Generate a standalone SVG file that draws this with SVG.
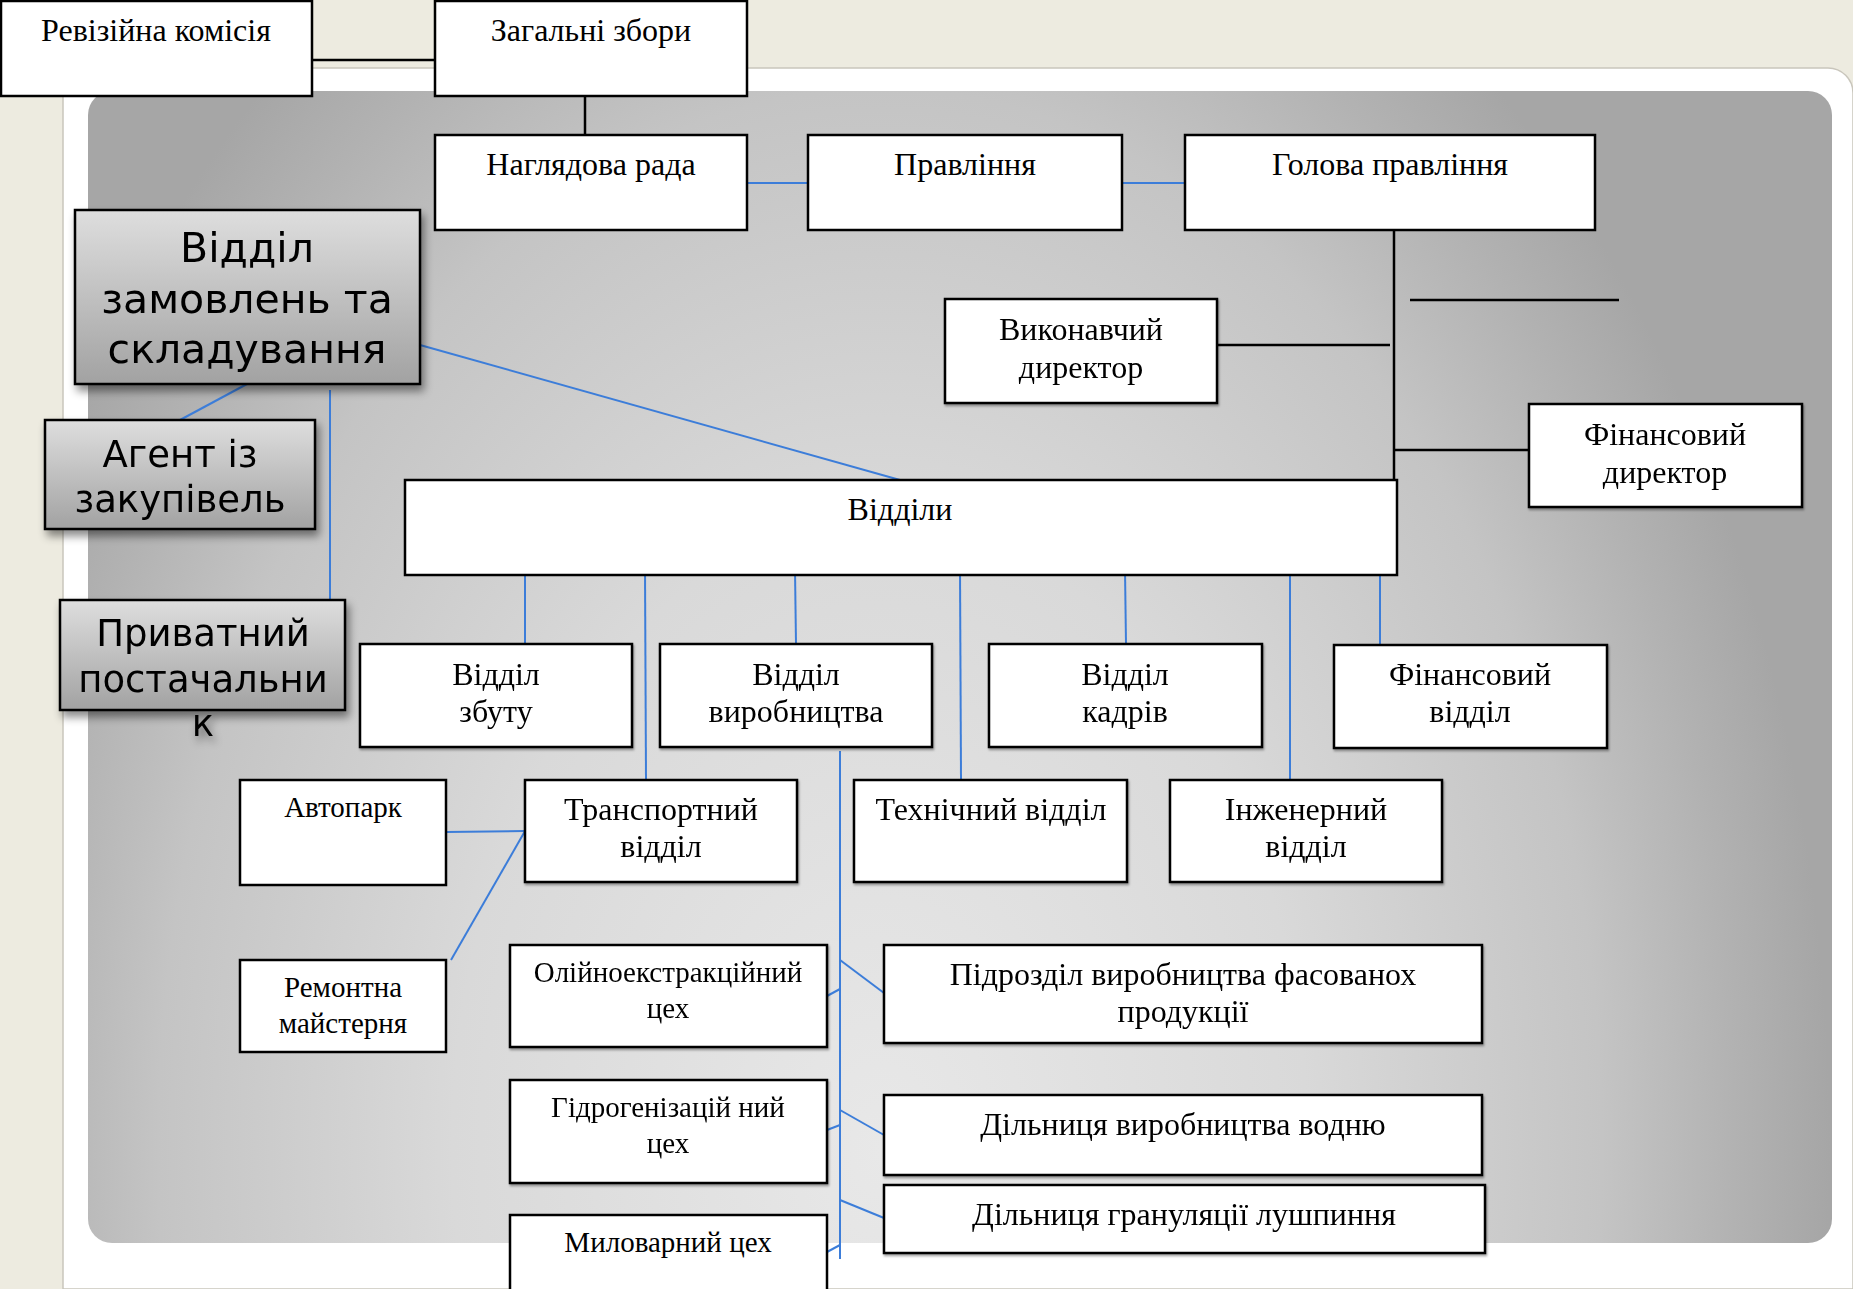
<svg xmlns="http://www.w3.org/2000/svg" width="1853" height="1289" viewBox="0 0 1853 1289">
<style>
.box{fill:#fff;stroke:#000;stroke-width:2.5}
.gbox{fill:url(#gb);stroke:#000;stroke-width:2.5}
.t{font-family:"Liberation Serif","Times New Roman",serif;font-size:32px;fill:#000;text-anchor:middle}
.t.sm{font-size:29px}
.s{font-family:"DejaVu Sans",Verdana,sans-serif;fill:#000;text-anchor:middle}
.k{stroke:#000;stroke-width:2.5;fill:none}
.b{stroke:#3C7DD9;stroke-width:2;fill:none}
</style>
<defs>
<radialGradient id="bg" gradientUnits="userSpaceOnUse" cx="880" cy="1150" r="950" gradientTransform="translate(880 1150) scale(1 1.47) translate(-880 -1150)">
<stop offset="0" stop-color="#E8E8E8"/>
<stop offset="0.45" stop-color="#D9D9D9"/>
<stop offset="0.76" stop-color="#C4C4C4"/>
<stop offset="0.9" stop-color="#B2B2B2"/>
<stop offset="1" stop-color="#A6A6A6"/>
</radialGradient>
<linearGradient id="gb" x1="0" y1="0" x2="0" y2="1">
<stop offset="0" stop-color="#DEDEDE"/>
<stop offset="1" stop-color="#A2A2A2"/>
</linearGradient>
<filter id="sh" x="-10%" y="-10%" width="130%" height="140%">
<feDropShadow dx="3" dy="6" stdDeviation="4" flood-color="#000" flood-opacity="0.45"/>
</filter>
<filter id="ws" x="-5%" y="-5%" width="110%" height="115%">
<feDropShadow dx="1" dy="2" stdDeviation="1" flood-color="#000" flood-opacity="0.35"/>
</filter>
</defs>
<rect x="0" y="0" width="1853" height="1289" fill="#EDEBE0"/>
<path d="M63,1289 V68 H1828 A25,25 0 0 1 1853,93 V1289 Z" fill="#fff" stroke="#C9C6BC" stroke-width="1.5"/>
<rect x="88" y="91" width="1744" height="1152" rx="24" fill="url(#bg)"/>

<g id="connectors">
<line class="k" x1="312" y1="60" x2="435" y2="60"/>
<line class="k" x1="585" y1="90" x2="585" y2="135"/>
<line class="k" x1="1394" y1="225" x2="1394" y2="480"/>
<line class="k" x1="1217" y1="345" x2="1390" y2="345"/>
<line class="k" x1="1394" y1="450" x2="1529" y2="450"/>
<line class="k" x1="1410" y1="300" x2="1619" y2="300"/>
<line class="b" x1="747" y1="183" x2="808" y2="183"/>
<line class="b" x1="1122" y1="183" x2="1185" y2="183"/>
<line class="b" x1="420" y1="345" x2="900" y2="480"/>
<line class="b" x1="247" y1="384" x2="180" y2="420"/>
<line class="b" x1="330" y1="390" x2="330" y2="600"/>
<line class="b" x1="525" y1="570" x2="525" y2="644"/>
<line class="b" x1="645" y1="570" x2="646" y2="780"/>
<line class="b" x1="795" y1="570" x2="796" y2="644"/>
<line class="b" x1="960" y1="570" x2="961" y2="780"/>
<line class="b" x1="1125" y1="570" x2="1126" y2="644"/>
<line class="b" x1="1290" y1="570" x2="1290" y2="780"/>
<line class="b" x1="1380" y1="570" x2="1380" y2="645"/>
<line class="b" x1="446" y1="832" x2="525" y2="831"/>
<line class="b" x1="525" y1="831" x2="451" y2="960"/>
<line class="b" x1="840" y1="751" x2="840" y2="1259"/>
<line class="b" x1="827" y1="996" x2="840" y2="989"/>
<line class="b" x1="827" y1="1130" x2="840" y2="1125"/>
<line class="b" x1="827" y1="1252" x2="840" y2="1245"/>
<line class="b" x1="840" y1="960" x2="884" y2="993"/>
<line class="b" x1="840" y1="1110" x2="884" y2="1135"/>
<line class="b" x1="840" y1="1200" x2="884" y2="1218"/>
</g>

<g id="revision"><rect class="box" x="1" y="1" width="311" height="95"/><text class="t" x="156" y="41">Ревізійна комісія</text></g>
<g id="general"><rect class="box" x="435" y="1" width="312" height="95"/><text class="t" x="591" y="41">Загальні збори</text></g>
<g id="supervisory"><rect class="box" x="435" y="135" width="312" height="95"/><text class="t" x="591" y="175">Наглядова рада</text></g>
<g id="board"><rect class="box" x="808" y="135" width="314" height="95"/><text class="t" x="965" y="175">Правління</text></g>
<g id="chairman"><rect class="box" x="1185" y="135" width="410" height="95"/><text class="t" x="1390" y="175">Голова правління</text></g>

<g id="orders" filter="url(#sh)"><rect class="gbox" x="75" y="210" width="345" height="174"/>
<text class="s" font-size="41" x="247" y="262">Відділ</text>
<text class="s" font-size="41" x="247" y="313">замовлень та</text>
<text class="s" font-size="41" x="247" y="363">складування</text></g>
<g id="agent" filter="url(#sh)"><rect class="gbox" x="45" y="420" width="270" height="109"/>
<text class="s" font-size="37" x="180" y="467">Агент із</text>
<text class="s" font-size="37" x="180" y="512">закупівель</text></g>
<g id="supplier" filter="url(#sh)"><rect class="gbox" x="60" y="600" width="285" height="110"/>
<text class="s" font-size="37" x="203" y="646">Приватний</text>
<text class="s" font-size="37" x="203" y="692">постачальни</text>
<text class="s" font-size="37" x="203" y="736">к</text></g>

<g id="exec" filter="url(#ws)"><rect class="box" x="945" y="299" width="272" height="104"/><text class="t" x="1081" y="340">Виконавчий</text><text class="t" x="1081" y="378">директор</text></g>
<g id="findir" filter="url(#ws)"><rect class="box" x="1529" y="404" width="273" height="103"/><text class="t" x="1665" y="445">Фінансовий</text><text class="t" x="1665" y="483">директор</text></g>
<g id="depts"><rect class="box" x="405" y="480" width="992" height="95"/><text class="t" x="900" y="520">Відділи</text></g>

<g id="sales" filter="url(#ws)"><rect class="box" x="360" y="644" width="272" height="103"/><text class="t" x="496" y="685">Відділ</text><text class="t" x="496" y="722">збуту</text></g>
<g id="production" filter="url(#ws)"><rect class="box" x="660" y="644" width="272" height="103"/><text class="t" x="796" y="685">Відділ</text><text class="t" x="796" y="722">виробництва</text></g>
<g id="hr" filter="url(#ws)"><rect class="box" x="989" y="644" width="273" height="103"/><text class="t" x="1125" y="685">Відділ</text><text class="t" x="1125" y="722">кадрів</text></g>
<g id="finance" filter="url(#ws)"><rect class="box" x="1334" y="645" width="273" height="103"/><text class="t" x="1470" y="685">Фінансовий</text><text class="t" x="1470" y="722">відділ</text></g>

<g id="autopark"><rect class="box" x="240" y="780" width="206" height="105"/><text class="t sm" x="343" y="817">Автопарк</text></g>
<g id="transport" filter="url(#ws)"><rect class="box" x="525" y="780" width="272" height="102"/><text class="t" x="661" y="820">Транспортний</text><text class="t" x="661" y="857">відділ</text></g>
<g id="technical" filter="url(#ws)"><rect class="box" x="854" y="780" width="273" height="102"/><text class="t" x="991" y="820">Технічний відділ</text></g>
<g id="engineering" filter="url(#ws)"><rect class="box" x="1170" y="780" width="272" height="102"/><text class="t" x="1306" y="820">Інженерний</text><text class="t" x="1306" y="857">відділ</text></g>

<g id="repair"><rect class="box" x="240" y="960" width="206" height="92"/><text class="t sm" x="343" y="997">Ремонтна</text><text class="t sm" x="343" y="1033">майстерня</text></g>
<g id="oil" filter="url(#ws)"><rect class="box" x="510" y="945" width="317" height="102"/><text class="t sm" x="668" y="982">Олійноекстракційний</text><text class="t sm" x="668" y="1018">цех</text></g>
<g id="hydro" filter="url(#ws)"><rect class="box" x="510" y="1080" width="317" height="103"/><text class="t sm" x="668" y="1117">Гідрогенізацій ний</text><text class="t sm" x="668" y="1153">цех</text></g>
<g id="soap"><rect class="box" x="510" y="1215" width="317" height="90"/><text class="t sm" x="668" y="1252">Миловарний цех</text></g>

<g id="packaged" filter="url(#ws)"><rect class="box" x="884" y="945" width="598" height="98"/><text class="t" x="1183" y="985">Підрозділ виробництва фасованох</text><text class="t" x="1183" y="1022">продукції</text></g>
<g id="hydrogen" filter="url(#ws)"><rect class="box" x="884" y="1095" width="598" height="80"/><text class="t" x="1183" y="1135">Дільниця виробництва водню</text></g>
<g id="husk" filter="url(#ws)"><rect class="box" x="884" y="1185" width="601" height="68"/><text class="t" x="1184" y="1225">Дільниця грануляції лушпиння</text></g>
</svg>
